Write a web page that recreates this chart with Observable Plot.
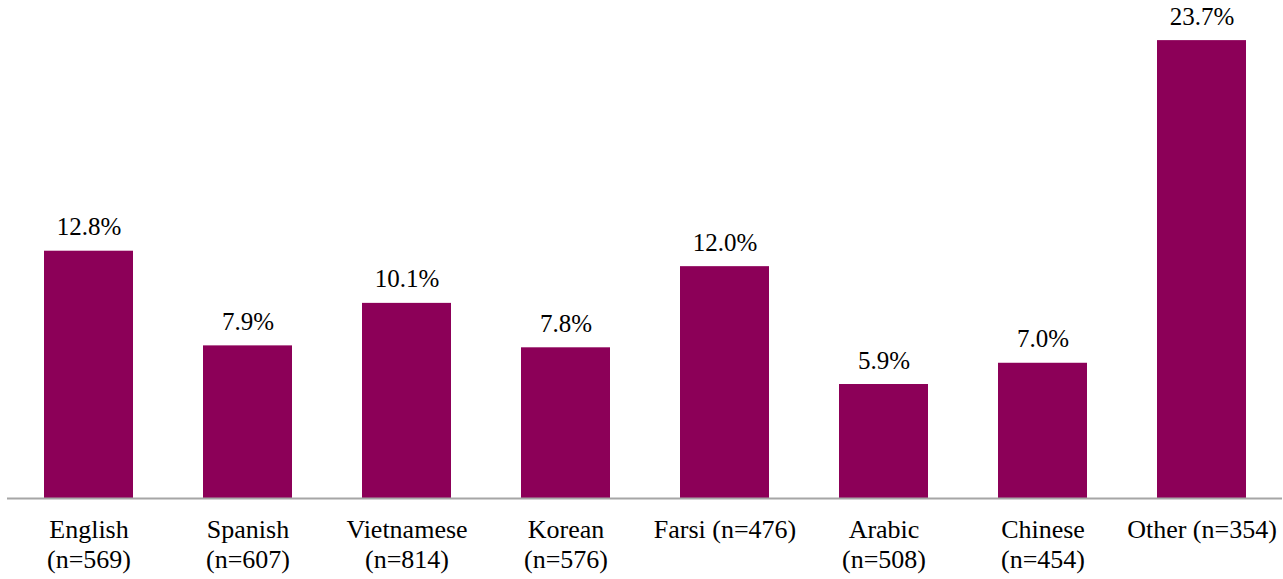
<!DOCTYPE html>
<html>
<head>
<meta charset="utf-8">
<script src="https://cdn.jsdelivr.net/npm/d3@7"></script>
<script src="https://cdn.jsdelivr.net/npm/@observablehq/plot@0.6"></script>
<style>
  html, body { margin: 0; padding: 0; background: #fff; }
  #chart svg { display: block; }
  #chart svg text { font-family: "Liberation Serif", "Times New Roman", Times, serif; }
</style>
</head>
<body>
<div id="chart"></div>
<script>
const categories = ["English", "Spanish", "Vietnamese", "Korean", "Farsi", "Arabic", "Chinese", "Other"];
const sampleSizes = [569, 607, 814, 576, 476, 508, 454, 354];
const values = [12.8, 7.9, 10.1, 7.8, 12.0, 5.9, 7.0, 23.7];
const tickLabels = [
  "English\n(n=569)",
  "Spanish\n(n=607)",
  "Vietnamese\n(n=814)",
  "Korean\n(n=576)",
  "Farsi (n=476)",
  "Arabic\n(n=508)",
  "Chinese\n(n=454)",
  "Other (n=354)"
];

const data = categories.map((c, i) => ({category: c, n: sampleSizes[i], value: values[i]}));
const labelOf = new Map(categories.map((c, i) => [c, tickLabels[i]]));

const font = "'Liberation Serif', 'Times New Roman', Times, serif";

const chart = Plot.plot({
  width: 1283,
  height: 579,
  marginLeft: 7,
  marginRight: 1,
  marginTop: 15,
  marginBottom: 81,
  style: `font-family: ${font}; background: #fff; color: #000;`,
  x: {domain: categories, paddingInner: 0.442, paddingOuter: 0.22, label: null},
  y: {domain: [0, 25], axis: null},
  marks: [
    Plot.barY(data, {x: "category", y: "value", fill: "#8c0058"}),
    Plot.ruleY([0], {stroke: "#a6a6a6", strokeWidth: 2}),
    Plot.text(data, {
      x: "category", y: "value",
      text: d => d.value.toFixed(1) + "%",
      dy: -16, lineAnchor: "bottom", fontSize: 25, fill: "#000", fontFamily: font
    }),
    Plot.axisX({
      tickSize: 0, tickPadding: 18.5, fontSize: 26, lineHeight: 1.154, fontFamily: font,
      tickFormat: c => labelOf.get(c), label: null, fill: "#000"
    })
  ]
});
document.getElementById("chart").appendChild(chart);
</script>
</body>
</html>
